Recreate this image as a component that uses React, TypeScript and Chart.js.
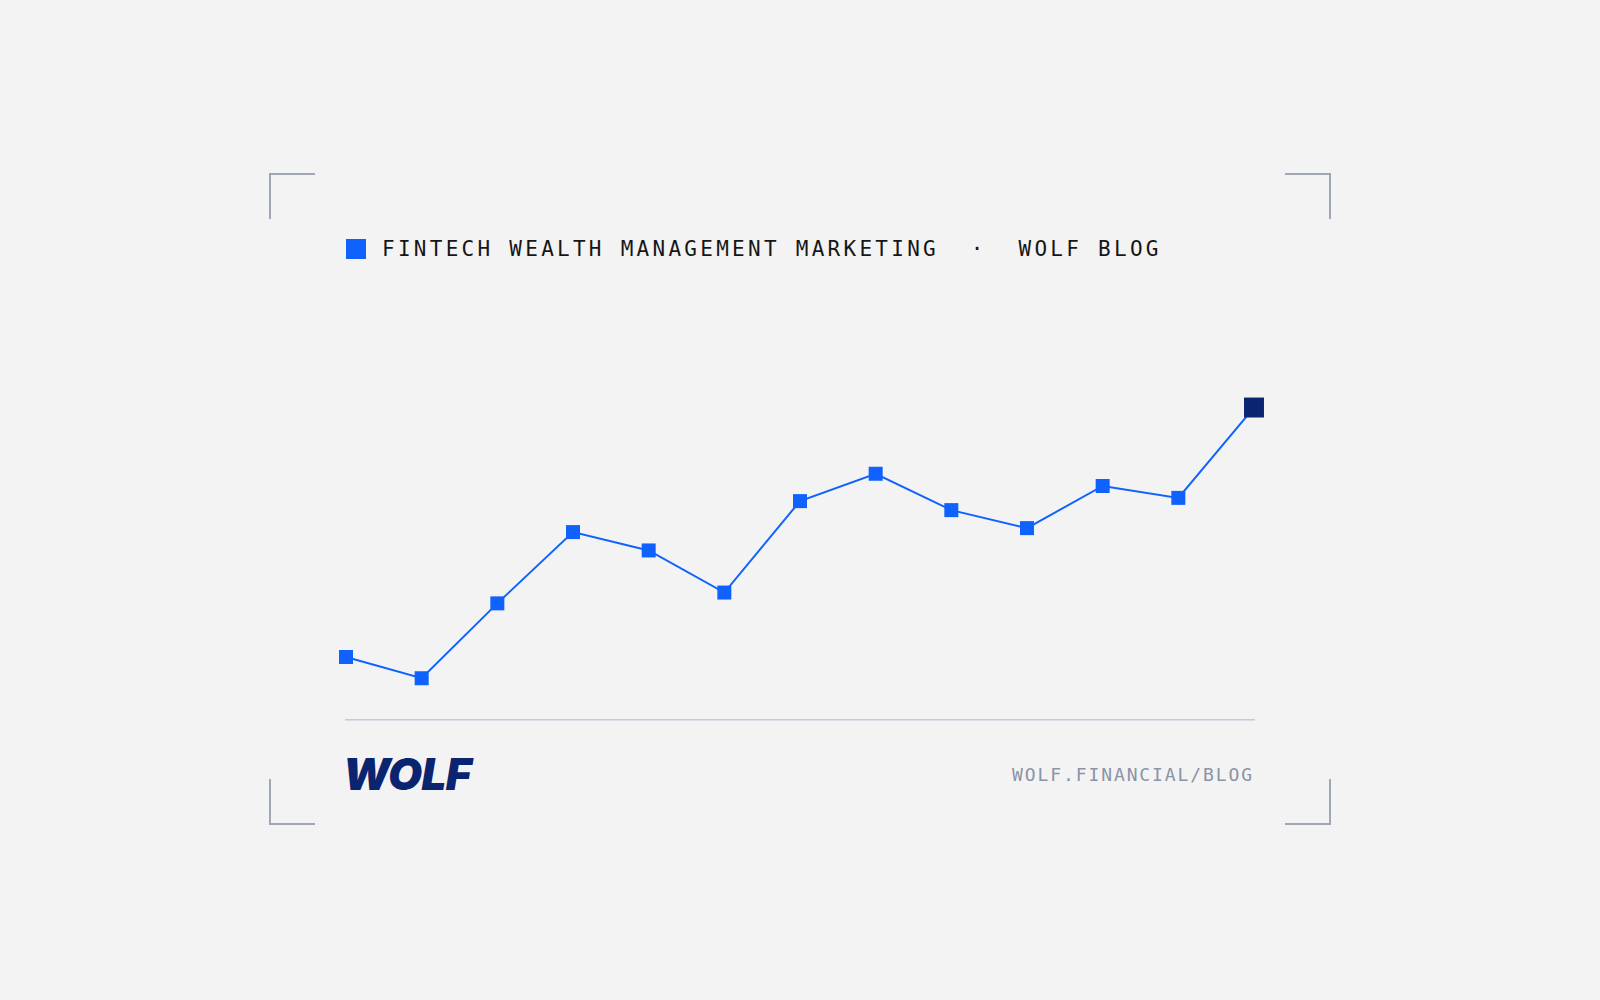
import { useEffect, useRef } from 'react';
import { Chart, registerables } from 'chart.js';

Chart.register(...registerables);

// monthly index (baseline = 0)
const periods = ['P1', 'P2', 'P3', 'P4', 'P5', 'P6', 'P7', 'P8', 'P9', 'P10', 'P11', 'P12', 'P13'];
const indexValues = [17.5, 11.6, 32.4, 52.2, 47.1, 35.4, 60.8, 68.4, 58.3, 53.3, 65, 61.7, 86.8];
const yRange = [0, 100];

const BLUE = '#0f62fe';
const NAVY = '#0a2470';
const MONO = '"DejaVu Sans Mono", "Liberation Mono", monospace';

function Corner({ left, top, sides }: { left: number; top: number; sides: string[] }) {
  const style: any = { position: 'absolute', left, top, width: 46, height: 46, boxSizing: 'border-box' };
  sides.forEach((s) => {
    style['border' + s] = '2px solid #9ea7b3';
  });
  return <div style={style}></div>;
}

export default function App() {
  const chartRef = useRef<HTMLCanvasElement>(null);
  const chartInstance = useRef<Chart | null>(null);

  useEffect(() => {
    if (!chartRef.current) return;
    const ctx = chartRef.current.getContext('2d');
    if (!ctx) return;

    if (chartInstance.current) {
      chartInstance.current.destroy();
      chartInstance.current = null;
    }

    const last = indexValues.length - 1;

    chartInstance.current = new Chart(ctx, {
      type: 'line',
      data: {
        labels: periods,
        datasets: [
          {
            label: 'Index',
            data: indexValues,
            borderColor: BLUE,
            borderWidth: 2,
            tension: 0,
            fill: false,
            clip: false,
            pointStyle: 'rect',
            pointRadius: indexValues.map((_, i) => (i === last ? 14.1 : 9.9)),
            pointBackgroundColor: indexValues.map((_, i) => (i === last ? NAVY : BLUE)),
            pointBorderWidth: 0
          }
        ]
      },
      options: {
        animation: false,
        responsive: false,
        maintainAspectRatio: false,
        layout: {
          padding: { left: 20, right: 20, top: 20, bottom: 20 }
        },
        plugins: {
          legend: { display: false },
          tooltip: { enabled: false }
        },
        scales: {
          y: {
            display: false,
            min: yRange[0],
            max: yRange[1]
          },
          x: {
            offset: false,
            grid: { display: false, drawTicks: false, tickLength: 0 },
            ticks: { display: false },
            border: { display: true, color: '#c6cad8', width: 1.5 }
          }
        }
      }
    });

    return () => {
      if (chartInstance.current) {
        chartInstance.current.destroy();
        chartInstance.current = null;
      }
    };
  }, []);

  return (
    <div style={{ position: 'fixed', inset: 0, background: '#f3f3f3', overflow: 'hidden' }}>
      <Corner left={269} top={173} sides={['Left', 'Top']} />
      <Corner left={1285} top={173} sides={['Right', 'Top']} />
      <Corner left={269} top={779} sides={['Left', 'Bottom']} />
      <Corner left={1285} top={779} sides={['Right', 'Bottom']} />

      <div style={{ position: 'absolute', left: 346, top: 239, width: 20, height: 20, background: BLUE }}></div>
      <div
        style={{
          position: 'absolute',
          left: 382,
          top: 239,
          fontFamily: MONO,
          fontSize: 21,
          lineHeight: 1,
          letterSpacing: 3.27,
          color: '#161616',
          whiteSpace: 'pre'
        }}
      >
        {'FINTECH WEALTH MANAGEMENT MARKETING  ·  WOLF BLOG'}
      </div>

      <canvas
        ref={chartRef}
        width={948}
        height={400}
        style={{ position: 'absolute', left: 326, top: 340, width: 948, height: 400 }}
      ></canvas>

      <div
        style={{
          position: 'absolute',
          left: 343,
          top: 752,
          fontFamily: 'Inter, "Liberation Sans", sans-serif',
          fontWeight: 900,
          fontStyle: 'italic',
          fontSize: 44,
          lineHeight: 1,
          letterSpacing: -0.6,
          color: NAVY
        }}
      >
        WOLF
      </div>

      <div
        style={{
          position: 'absolute',
          left: 1012,
          top: 765.5,
          fontFamily: MONO,
          fontSize: 18,
          lineHeight: 1,
          letterSpacing: 1.9,
          color: '#8a94a6',
          whiteSpace: 'pre'
        }}
      >
        WOLF.FINANCIAL/BLOG
      </div>
    </div>
  );
}
